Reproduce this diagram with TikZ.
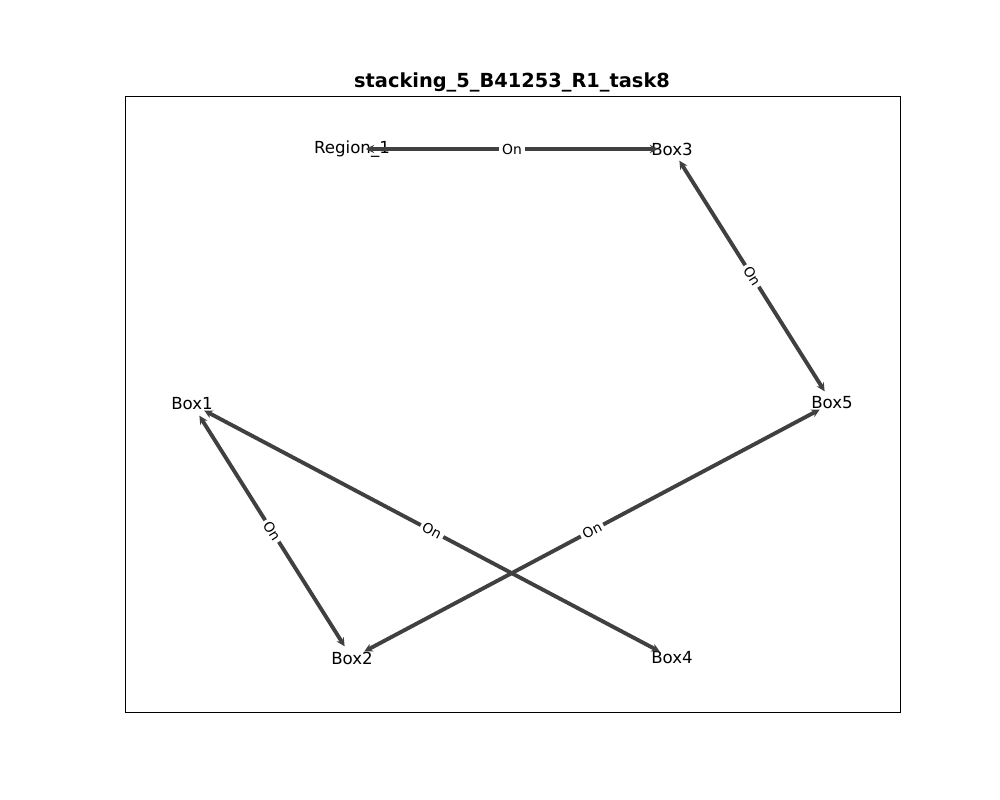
\documentclass[tikz,border=0pt]{standalone}
\usepackage{fontspec}
\setmainfont{DejaVu Sans}
\usepackage{tikz}
\usetikzlibrary{arrows.meta}
\tikzstyle{obj} = [inner sep=0pt, font=\fontsize{12}{14}\selectfont]
\tikzstyle{rel} = [line width=2.8pt, draw=black!75, {Stealth[length=6pt,width=6pt]}-{Stealth[length=6pt,width=6pt]}, shorten <=10pt, shorten >=10pt]
\tikzstyle{lbl} = [midway, sloped, fill=white, inner sep=2pt, font=\fontsize{10}{12}\selectfont]

\begin{document}
\begin{tikzpicture}[x=0.01in, y=-0.01in]
\useasboundingbox (0,0) rectangle (1000,800);
\draw[line width=0.6pt] (125,96) rectangle (900,712);
\node (title) at (512,82) {\fontsize{14}{16}\selectfont\bfseries stacking\_5\_B41253\_R1\_task8};

\node (region1) [obj] at (352,149) {Region\_1};
\node (box3) [obj] at (672,149) {Box3};
\node (box5) [obj] at (832,403) {Box5};
\node (box1) [obj] at (192,404) {Box1};
\node (box2) [obj] at (352,658) {Box2};
\node (box4) [obj] at (672,658) {Box4};

\draw [rel] (region1.center) -- (box3.center) node[lbl] {On};
\draw [rel] (box3.center) -- (box5.center) node[lbl] {On};
\draw [rel] (box1.center) -- (box2.center) node[lbl] {On};
\draw [rel] (box1.center) -- (box4.center) node[lbl] {On};
\draw [rel] (box5.center) -- (box2.center) node[lbl] {On};
\end{tikzpicture}
\end{document}
